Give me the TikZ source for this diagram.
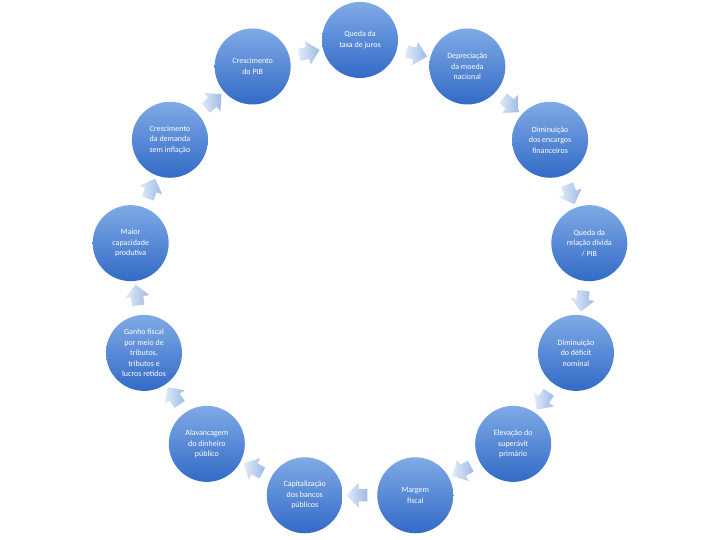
\documentclass[tikz,border=0pt]{standalone}
\usepackage{fontspec}
\setmainfont{Carlito}
\usetikzlibrary{shapes.arrows, calc}
\definecolor{balltop}{RGB}{128,170,230}
\definecolor{ballbot}{RGB}{50,106,198}
\definecolor{arrlight}{RGB}{226,235,248}
\definecolor{arrdark}{RGB}{158,186,230}

\begin{document}
\begin{tikzpicture}[x=1pt, y=1pt,
      ball/.style = {circle, minimum size=76pt, inner sep=0pt, top color=balltop,
                     bottom color=ballbot, text=white, align=center,
                     font=\fontsize{8}{10.5}\selectfont},
  blockarr/.style = {single arrow, minimum height=21pt, inner sep=6pt,
                     single arrow head extend=6pt, left color=arrlight,
                     right color=arrdark}
                        ]
\useasboundingbox (0,0) rectangle (720,540);
\coordinate (c) at (360,269);
% the thirteen steps, clockwise from the top
\node (taxa)        [ball] at ($(c)+(90:231)$)      {Queda da\\taxa de juros};
\node (depreciacao) [ball] at ($(c)+(62.308:231)$)  {Depreciação\\da moeda\\nacional};
\node (encargos)    [ball] at ($(c)+(34.615:231)$)  {Diminuição\\dos encargos\\financeiros};
\node (relacao)     [ball] at ($(c)+(6.923:231)$)   {Queda da\\relação dívida\\/ PIB};
\node (deficit)     [ball] at ($(c)+(-20.769:231)$) {Diminuição\\do déficit\\nominal};
\node (superavit)   [ball] at ($(c)+(-48.462:231)$) {Elevação do\\superávit\\primário};
\node (margem)      [ball] at ($(c)+(-76.154:231)$) {Margem\\fiscal};
\node (bancos)      [ball] at ($(c)+(-103.846:231)$) {Capitalização\\dos bancos\\públicos};
\node (alavancagem) [ball] at ($(c)+(-131.538:231)$) {Alavancagem\\do dinheiro\\público};
\node (ganho)       [ball] at ($(c)+(-159.231:231)$) {Ganho fiscal\\por meio de\\tributos,\\tributos e\\lucros retidos};
\node (capacidade)  [ball] at ($(c)+(173.077:231)$) {Maior\\capacidade\\produtiva};
\node (demanda)     [ball] at ($(c)+(145.385:231)$) {Crescimento\\da demanda\\sem inflação};
\node (pib)         [ball] at ($(c)+(117.692:231)$) {Crescimento\\do PIB};
% block arrows between the steps
\node (a1)  [blockarr, rotate=-13.846]  at ($(taxa)!0.5!(depreciacao)$) {};
\node (a2)  [blockarr, rotate=-41.538]  at ($(depreciacao)!0.5!(encargos)$) {};
\node (a3)  [blockarr, rotate=-69.231]  at ($(encargos)!0.5!(relacao)$) {};
\node (a4)  [blockarr, rotate=-96.923]  at ($(relacao)!0.5!(deficit)$) {};
\node (a5)  [blockarr, rotate=-124.615] at ($(deficit)!0.5!(superavit)$) {};
\node (a6)  [blockarr, rotate=-152.308] at ($(superavit)!0.5!(margem)$) {};
\node (a7)  [blockarr, rotate=-180]     at ($(margem)!0.5!(bancos)$) {};
\node (a8)  [blockarr, rotate=-207.692] at ($(bancos)!0.5!(alavancagem)$) {};
\node (a9)  [blockarr, rotate=-235.385] at ($(alavancagem)!0.5!(ganho)$) {};
\node (a10) [blockarr, rotate=-263.077] at ($(ganho)!0.5!(capacidade)$) {};
\node (a11) [blockarr, rotate=-290.769] at ($(capacidade)!0.5!(demanda)$) {};
\node (a12) [blockarr, rotate=-318.462] at ($(demanda)!0.5!(pib)$) {};
\node (a13) [blockarr, rotate=-346.154] at ($(pib)!0.5!(taxa)$) {};
\end{tikzpicture}
\end{document}
